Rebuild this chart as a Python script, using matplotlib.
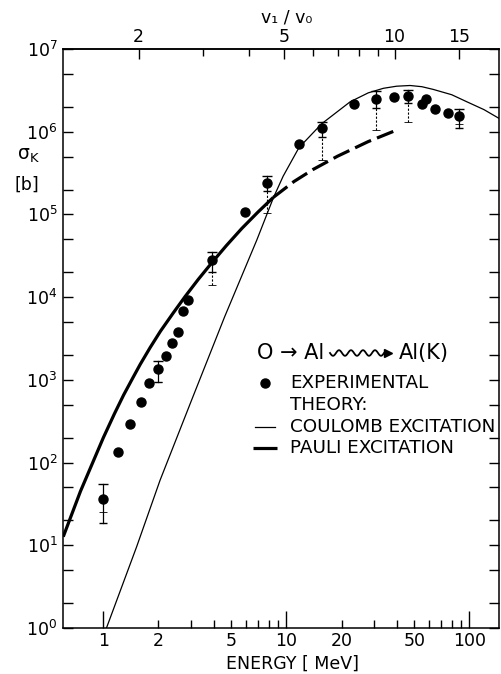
import numpy as np
import matplotlib
matplotlib.use("Agg")
from matplotlib import pyplot as plt

plt.rcParams["font.family"] = ["DejaVu Sans"]
plt.rcParams["mathtext.default"] = "regular"

# experimental K-shell cross sections (MeV, barn)
exp_energy = [1.0, 1.2, 1.39, 1.6, 1.78, 2.0, 2.2, 2.38, 2.57, 2.74, 2.91, 3.91,
              5.95, 7.81, 11.7, 15.6, 23.4, 31.0, 38.8, 46.0, 55.0, 58.0, 65.0,
              76.8, 88.0]
exp_sigma = [36, 133, 290, 540, 910, 1.37e3, 1.95e3, 2.8e3, 3.8e3, 6.8e3, 9.3e3,
             2.8e4, 1.08e5, 2.38e5, 7.1e5, 1.1e6, 2.14e6, 2.5e6, 2.6e6, 2.7e6,
             2.14e6, 2.5e6, 1.9e6, 1.67e6, 1.55e6]

# error bars: upper end, lower end of the solid part, lower end of the dashed part
err_energy = [1.0, 2.0, 3.91, 7.81, 15.6, 31.0, 46.0, 88.0]
err_hi = [55, 1.7e3, 3.5e4, 2.9e5, 1.3e6, 3.1e6, 3.2e6, 1.9e6]
err_lo_solid = [18.6, 950, 2.0e4, 1.9e5, 8.7e5, 1.94e6, 2.2e6, 1.1e6]
err_lo_dash = [25, 950, 1.4e4, 1.05e5, 4.6e5, 1.05e6, 1.3e6, 1.25e6]

# theory: Coulomb excitation
coul_energy = [1.04, 1.52, 2.04, 3.04, 4.6, 6.89, 8.5, 9.6, 11.7, 15.6, 22.3,
               28.0, 33.9, 40.0, 47.4, 55.0, 63.3, 80.0, 96.8, 120.0, 145.0]
coul_sigma = [1, 9.6, 61, 575, 5.8e3, 4.9e4, 1.6e5, 2.9e5, 6.4e5, 1.25e6, 2.3e6,
              2.95e6, 3.35e6, 3.55e6, 3.62e6, 3.5e6, 3.25e6, 2.8e6, 2.3e6,
              1.85e6, 1.45e6]

# theory: Pauli excitation (solid part, then dashed continuation)
pauli_energy = [0.604, 0.75, 1.0, 1.15, 1.29, 1.45, 1.59, 1.8, 2.05, 2.41, 2.8,
                3.3, 3.91, 4.7, 5.7, 7.0, 8.49]
pauli_sigma = [12.7, 45, 200, 390, 655, 1060, 1540, 2450, 3870, 6450, 1.02e4,
               1.64e4, 2.6e4, 4.2e4, 6.75e4, 1.07e5, 1.61e5]
pauli_dash_energy = [8.49, 11.0, 14.0, 19.0, 28.0, 39.3]
pauli_dash_sigma = [1.61e5, 2.5e5, 3.5e5, 5.05e5, 7.6e5, 1.03e6]

W, H = 502, 674
fig = plt.figure(figsize=(W / 100, H / 100), dpi=100)
ax = fig.add_axes([63 / W, 46 / H, 436 / W, 579 / H])
ax.set_xscale("log")
ax.set_yscale("log")
ax.set_xlim(0.602, 145)
ax.set_ylim(1, 1e7)

def fpos(x, y):
    return x / W, 1 - y / H

fs = 12.5
lfs = 13.2

# curves
ax.plot(coul_energy, coul_sigma, color="k", lw=0.9)
ax.plot(pauli_energy, pauli_sigma, color="k", lw=2.3, solid_capstyle="butt",
        solid_joinstyle="round")
ax.plot(pauli_dash_energy, pauli_dash_sigma, color="k", lw=2.3,
        dashes=(5.5, 2), dash_capstyle="butt")

# error bars
for e, hi, lo, ld in zip(err_energy, err_hi, err_lo_solid, err_lo_dash):
    ax.plot([e, e], [lo, hi], color="k", lw=0.9)
    if ld < lo:
        ax.plot([e, e], [ld, lo], color="k", lw=0.8, dashes=(2, 1.5))
ax.plot(err_energy, err_hi, ls="none", marker="_", ms=7, mew=1.0, color="k")
ax.plot(err_energy, err_lo_solid, ls="none", marker="_", ms=6, mew=1.0, color="k")
ax.plot(err_energy, err_lo_dash, ls="none", marker="_", ms=6, mew=0.6, color="k")

ax.plot(exp_energy, exp_sigma, ls="none", marker="o", ms=6.5, color="k")

# axes styling
for s in ax.spines.values():
    s.set_linewidth(1.1)

ax.set_xticks([1, 10, 100])
ax.set_xticklabels(["1", "10", "100"])
minor_x = [2, 3, 4, 5, 6, 7, 8, 9, 20, 30, 40, 50, 60, 70, 80, 90]
ax.set_xticks(minor_x, minor=True)
ax.set_xticklabels(["2", "", "", "5", "", "", "", "", "20", "", "", "50",
                    "", "", "", ""], minor=True)
ax.tick_params(axis="x", which="major", direction="in", length=12, width=1,
               labelsize=fs, pad=3)
ax.tick_params(axis="x", which="minor", direction="in", length=6, width=1,
               labelsize=fs, pad=3)

decades = [10.0 ** k for k in range(8)]
ax.set_yticks(decades)
ax.set_yticklabels(["$10^{%d}$" % k for k in range(8)])
minor_y = [m * d for d in decades[:-1] for m in (2, 5)]
ax.set_yticks(minor_y, minor=True)
ax.yaxis.set_minor_formatter(matplotlib.ticker.NullFormatter())
ax.tick_params(axis="y", which="both", direction="in", length=7, width=1,
               labelsize=fs, pad=4, right=True)

# top axis: v1/v0
sec = ax.secondary_xaxis("top", functions=(lambda e: np.sqrt(np.abs(e) / 0.39),
                                           lambda v: 0.39 * v ** 2))
sec.set_xticks([2, 5, 10, 15])
sec.set_xticklabels(["2", "5", "10", "15"])
sec.set_xticks([3, 4, 6, 7, 8, 9], minor=True)
sec.xaxis.set_minor_formatter(matplotlib.ticker.NullFormatter())
sec.tick_params(which="major", direction="in", length=7, width=1,
                labelsize=fs, pad=2)
sec.tick_params(which="minor", direction="in", length=5, width=1)
sec.spines["top"].set_linewidth(1.1)

fig.text(*fpos(287, 18), "v\u2081 / v\u2080", fontsize=fs, ha="center", va="center")
fig.text(*fpos(293, 664), "ENERGY [ MeV]", fontsize=fs, ha="center", va="center")
fig.text(*fpos(28, 155), "$\\sigma_K$", fontsize=fs + 1, ha="center", va="center")
fig.text(*fpos(27, 185), "[b]", fontsize=fs, ha="center", va="center")

# legend block
fig.text(*fpos(257, 353), "O \u2192 Al", fontsize=15, ha="left", va="center")
fig.text(*fpos(399, 353), "Al(K)", fontsize=15, ha="left", va="center")
# squiggly arrow of the reaction label
t = np.linspace(0, 1, 120)
sx = 330 + 54 * t
sy = 353 + 2.8 * np.sin(2 * np.pi * 4.5 * t)
ax.plot(sx / W, 1 - sy / H, color="k", lw=1.3, transform=fig.transFigure,
        clip_on=False)
ax.plot(*fpos(388, 353), marker=">", ms=6, color="k",
        transform=fig.transFigure, clip_on=False)

ax.plot(*fpos(265, 383), marker="o", ms=6.5, color="k",
        transform=fig.transFigure, clip_on=False)
fig.text(*fpos(290, 383), "EXPERIMENTAL", fontsize=lfs, ha="left", va="center")
fig.text(*fpos(290, 405), "THEORY:", fontsize=lfs, ha="left", va="center")
x0, y0 = fpos(255, 427)
x1, _ = fpos(275, 427)
ax.plot([x0, x1], [y0, y0], color="k", lw=0.9, transform=fig.transFigure,
        clip_on=False)
fig.text(*fpos(290, 427), "COULOMB EXCITATION", fontsize=lfs, ha="left", va="center")
x0, y0 = fpos(253, 448)
x1, _ = fpos(277, 448)
ax.plot([x0, x1], [y0, y0], color="k", lw=2.3, transform=fig.transFigure,
        clip_on=False, solid_capstyle="butt")
fig.text(*fpos(290, 448), "PAULI EXCITATION", fontsize=lfs, ha="left", va="center")

fig.savefig("out.png", dpi=100)
